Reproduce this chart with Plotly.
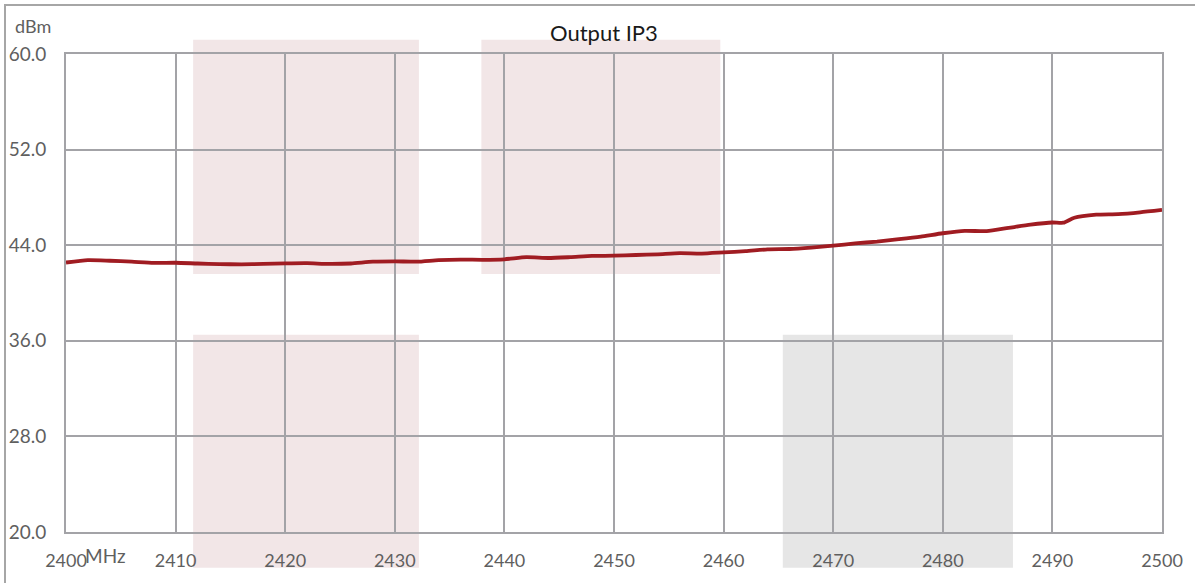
import plotly.graph_objects as go

# ---- data ----
freq_mhz = [2400, 2402, 2404, 2406, 2408, 2410, 2412, 2414, 2416, 2418, 2420, 2422, 2424, 2426,
            2428, 2430, 2432, 2434, 2436, 2438, 2440, 2442, 2444, 2446, 2448, 2450, 2452, 2454,
            2456, 2458, 2460, 2462, 2464, 2466, 2468, 2470, 2472, 2474, 2476, 2478, 2480, 2482,
            2484, 2486, 2488, 2490, 2491, 2492, 2494, 2496, 2498, 2500]
oip3_dbm = [42.55, 42.75, 42.70, 42.62, 42.52, 42.53, 42.47, 42.42, 42.40, 42.43, 42.48, 42.50,
            42.43, 42.47, 42.62, 42.65, 42.62, 42.75, 42.80, 42.78, 42.82, 43.00, 42.93, 43.00,
            43.10, 43.12, 43.18, 43.24, 43.33, 43.30, 43.40, 43.50, 43.65, 43.68, 43.80, 43.96,
            44.15, 44.30, 44.50, 44.72, 45.00, 45.20, 45.18, 45.45, 45.72, 45.90, 45.88, 46.30,
            46.55, 46.60, 46.75, 46.95]

x_ticks = [2400, 2410, 2420, 2430, 2440, 2450, 2460, 2470, 2480, 2490, 2500]
y_ticks = [20.0, 28.0, 36.0, 44.0, 52.0, 60.0]
y_tick_text = ["20.0", "28.0", "36.0", "44.0", "52.0", "60.0"]

# shaded bands: (x0, x1, y0, y1, colour) in data units
bands = [
    (2411.6, 2432.2, 41.6, 61.2, "#f2e6e7"),
    (2411.6, 2432.2, 17.0, 36.5, "#f2e6e7"),
    (2437.9, 2459.7, 41.6, 61.2, "#f2e6e7"),
    (2465.4, 2486.4, 17.0, 36.5, "#e6e6e6"),
]

X_RANGE = [2400, 2500]
Y_RANGE = [20, 60]

W, H = 1195, 583
ML, MR, MT, MB = 66, 33, 54, 51
PW, PH = W - ML - MR, H - MT - MB


def px_x(p):
    return (p - ML) / PW


def px_y(p):
    return (H - MB - p) / PH


def y_to_paper(v):
    return (v - Y_RANGE[0]) / (Y_RANGE[1] - Y_RANGE[0])


grid = "#a3a3a7"
tick_col = "#5f5f5f"
font = "Lato"

fig = go.Figure()
fig.add_trace(go.Scatter(
    x=freq_mhz, y=oip3_dbm, mode="lines",
    line=dict(color="#a01c22", width=3.8, shape="spline", smoothing=0.6),
    hoverinfo="skip", showlegend=False,
))

shapes = []
for x0, x1, y0, y1, col in bands:
    shapes.append(dict(type="rect", xref="x", yref="paper",
                       x0=x0, x1=x1, y0=y_to_paper(y0), y1=y_to_paper(y1),
                       fillcolor=col, line=dict(width=0), layer="below"))
# outer frame (top & left visible)
shapes.append(dict(type="rect", xref="paper", yref="paper",
                   x0=px_x(5), x1=px_x(1230), y0=px_y(620), y1=px_y(5),
                   line=dict(color="#a6a6a6", width=2), fillcolor="rgba(0,0,0,0)",
                   layer="below"))

annotations = [
    dict(text="Output IP3", xref="paper", yref="paper", x=px_x(604), y=px_y(32),
         showarrow=False, font=dict(family=font, size=22, color="#1a1a1a"),
         xanchor="center", yanchor="middle"),
    dict(text="dBm", xref="paper", yref="paper", x=px_x(13), y=px_y(26),
         showarrow=False, font=dict(family=font, size=18, color=tick_col),
         xanchor="left", yanchor="middle"),
    dict(text="MHz", xref="paper", yref="paper", x=px_x(83), y=px_y(555),
         showarrow=False, font=dict(family=font, size=19, color=tick_col),
         xanchor="left", yanchor="middle"),
]

fig.update_layout(
    width=W, height=H,
    margin=dict(l=ML, r=MR, t=MT, b=MB, pad=0),
    paper_bgcolor="white", plot_bgcolor="rgba(0,0,0,0)",
    shapes=shapes, annotations=annotations,
    showlegend=False,
    font=dict(family=font, size=18, color=tick_col),
)
fig.update_xaxes(
    range=X_RANGE, tickvals=x_ticks, ticktext=[str(v) for v in x_ticks],
    showgrid=True, gridcolor=grid, gridwidth=2,
    showline=True, linecolor=grid, linewidth=2, mirror=True,
    zeroline=False, ticks="", ticklabelstandoff=11, automargin=False,
    tickfont=dict(family=font, size=18, color=tick_col),
)
fig.update_yaxes(
    range=Y_RANGE, tickvals=y_ticks, ticktext=y_tick_text,
    showgrid=True, gridcolor=grid, gridwidth=2,
    showline=True, linecolor=grid, linewidth=2, mirror=True,
    zeroline=False, ticks="", ticklabelstandoff=14, automargin=False,
    tickfont=dict(family=font, size=19, color=tick_col),
)

fig.write_html("out.html",
               config={"displayModeBar": False},
               post_script="document.body.style.margin='0';document.body.style.overflow='hidden';")
